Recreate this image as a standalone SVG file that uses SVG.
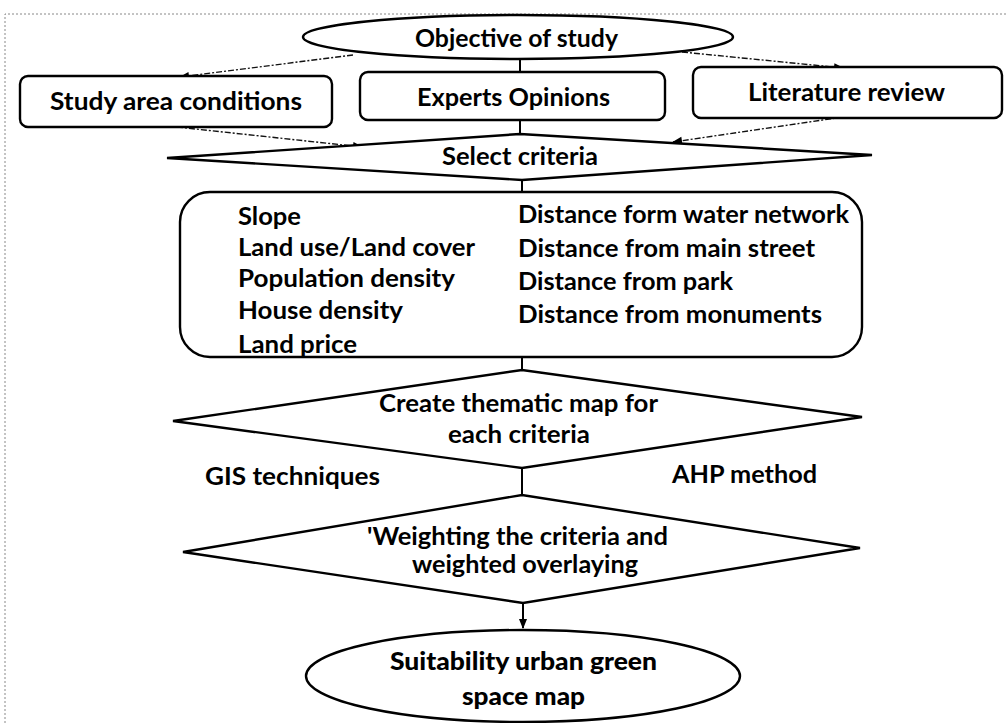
<svg xmlns="http://www.w3.org/2000/svg" width="1006" height="723" viewBox="0 0 1006 723">
<style>
.shape{fill:#fff;stroke:#000;stroke-width:2.4}
.line{fill:none;stroke:#000;stroke-width:2}
.dash{fill:none;stroke:#111;stroke-width:1.4;stroke-dasharray:6 2 2 2}
.frame{fill:none;stroke:#888;stroke-width:1;stroke-dasharray:2 2}
text{font-family:Lato,"Liberation Sans",sans-serif;font-size:25px;font-weight:700;fill:#000}
.b{font-weight:900}
</style>
<defs>
<marker id="ah" viewBox="0 0 10 10" refX="9" refY="5" markerWidth="12" markerHeight="10" markerUnits="userSpaceOnUse" orient="auto">
<path d="M0,1 L10,5 L0,9 Z" fill="#000"/>
</marker>
</defs>
<rect width="1006" height="723" fill="#fff"/>
<path class="frame" d="M5,723 V14 H1006"/>
<g id="connectors">
<path class="line" d="M520,59 V72"/>
<path class="line" d="M520,120 V134"/>
<path class="line" d="M522,180 V192"/>
<path class="line" d="M522,357 V370"/>
<path class="line" d="M522,468 V495"/>
<path class="line" d="M523,603 V628" marker-end="url(#ah)"/>
<path class="dash" d="M353,55 L180,77" marker-end="url(#ah)"/>
<path class="dash" d="M682,52 L843,68" marker-end="url(#ah)"/>
<path class="dash" d="M177,127 L362,147" marker-end="url(#ah)"/>
<path class="dash" d="M843,117 L673,142" marker-end="url(#ah)"/>
</g>
<g id="objective">
<ellipse class="shape" cx="518" cy="37" rx="215" ry="22"/>
<text x="415" y="47" textLength="203" lengthAdjust="spacingAndGlyphs">Objective of study</text>
</g>
<g id="study-area">
<rect class="shape" x="20" y="76" width="312" height="51" rx="8"/>
<text x="50" y="110" textLength="252" lengthAdjust="spacingAndGlyphs">Study area conditions</text>
</g>
<g id="experts">
<rect class="shape" x="360" y="72" width="305" height="48" rx="8"/>
<text x="417" y="106" textLength="193" lengthAdjust="spacingAndGlyphs">Experts Opinions</text>
</g>
<g id="literature">
<rect class="shape" x="693" y="67" width="309" height="51" rx="8"/>
<text x="748" y="101" textLength="197" lengthAdjust="spacingAndGlyphs">Literature review</text>
</g>
<g id="select-criteria">
<path class="shape" d="M167,158 L520,134 L872,155 L522,180 Z"/>
<text x="442" y="165" textLength="156" lengthAdjust="spacingAndGlyphs">Select criteria</text>
</g>
<g id="criteria-list">
<rect class="shape" x="180" y="192" width="682" height="165" rx="30"/>
<text x="238" y="225" textLength="63" lengthAdjust="spacingAndGlyphs">Slope</text>
<text x="238" y="256" textLength="237" lengthAdjust="spacingAndGlyphs">Land use/Land cover</text>
<text x="238" y="287" textLength="217" lengthAdjust="spacingAndGlyphs">Population density</text>
<text x="238" y="319" textLength="165" lengthAdjust="spacingAndGlyphs">House density</text>
<text x="238" y="353" textLength="119" lengthAdjust="spacingAndGlyphs">Land price</text>
<text x="518" y="223" textLength="331" lengthAdjust="spacingAndGlyphs">Distance form water network</text>
<text x="518" y="257" textLength="297" lengthAdjust="spacingAndGlyphs">Distance from main street</text>
<text x="518" y="290" textLength="215" lengthAdjust="spacingAndGlyphs">Distance from park</text>
<text x="518" y="323" textLength="304" lengthAdjust="spacingAndGlyphs">Distance from monuments</text>
</g>
<g id="thematic-map">
<path class="shape" d="M173,421 L522,370 L862,417 L522,468 Z"/>
<text x="379" y="412" textLength="279" lengthAdjust="spacingAndGlyphs">Create thematic map for</text>
<text x="448" y="443" textLength="142" lengthAdjust="spacingAndGlyphs">each criteria</text>
</g>
<g id="gis-label">
<text x="205" y="485" textLength="175" lengthAdjust="spacingAndGlyphs">GIS techniques</text>
</g>
<g id="ahp-label">
<text x="672" y="483" textLength="145" lengthAdjust="spacingAndGlyphs">AHP method</text>
</g>
<g id="weighting">
<path class="shape" d="M183,552 L522,495 L860,548 L523,603 Z"/>
<text x="367" y="545" textLength="301" lengthAdjust="spacingAndGlyphs">'Weighting the criteria and</text>
<text x="412" y="573" textLength="226" lengthAdjust="spacingAndGlyphs">weighted overlaying</text>
</g>
<g id="suitability-map">
<ellipse class="shape" cx="523" cy="676" rx="217" ry="46"/>
<text class="b" x="390" y="670" textLength="267" lengthAdjust="spacingAndGlyphs">Suitability urban green</text>
<text class="b" x="462" y="705" textLength="123" lengthAdjust="spacingAndGlyphs">space map</text>
</g>
</svg>
